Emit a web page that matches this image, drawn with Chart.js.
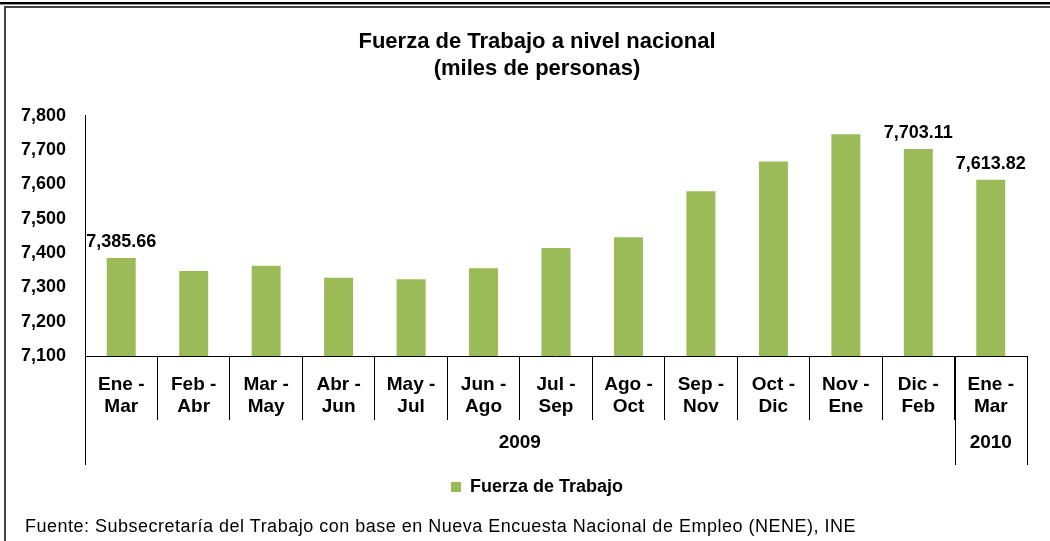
<!DOCTYPE html>
<html>
<head>
<meta charset="utf-8">
<script src="https://cdn.jsdelivr.net/npm/chart.js@4.4.0/dist/chart.umd.min.js"></script>
<style>
  html, body { margin: 0; padding: 0; background: #fff; }
  #wrap { position: relative; width: 1050px; height: 541px; overflow: hidden; }
  #topline { position: absolute; left: 0; top: 2px; width: 1050px; height: 0; border-top: 2px solid #000; border-bottom: 1px solid #999; }
  #frame { position: absolute; left: 4px; top: 6px; width: 1060px; height: 560px; border-left: 2px solid #444; border-top: 2px solid #444; }
  #chart-box { position: absolute; left: 0; top: 0; width: 1050px; height: 541px; }
  #fuente { position: absolute; left: 25px; top: 516px; font: 18px "Liberation Sans", Arial, sans-serif; letter-spacing: 0.5px; color: #000; white-space: nowrap; }
</style>
</head>
<body>
<div id="wrap">
  <div id="topline"></div>
  <div id="frame"></div>
  <div id="chart-box"><canvas id="laborChart"></canvas></div>
  <div id="fuente">Fuente: Subsecretaría del Trabajo con base en Nueva Encuesta Nacional de Empleo (NENE), INE</div>
</div>
<script>
// Periods (two-line labels) and values, thousands of people
const periods = [
    ['Ene -', 'Mar'], ['Feb -', 'Abr'], ['Mar -', 'May'], ['Abr -', 'Jun'],
    ['May -', 'Jul'], ['Jun -', 'Ago'], ['Jul -', 'Sep'], ['Ago -', 'Oct'],
    ['Sep -', 'Nov'], ['Oct -', 'Dic'], ['Nov -', 'Ene'], ['Dic -', 'Feb'],
    ['Ene -', 'Mar']
];
const fuerzaTrabajo = [7385.66, 7348, 7363, 7328, 7324, 7356, 7415, 7446, 7580, 7667, 7746, 7703.11, 7613.82];
const labeledBars = [0, 11, 12];
const years = ['2009', '2010'];
const yearSpans = [12, 1];
const yTicks = [7100, 7200, 7300, 7400, 7500, 7600, 7700, 7800];

const FONT = '"Liberation Sans", Arial, sans-serif';
Chart.defaults.color = '#000';
Chart.defaults.font.family = FONT;

function fmt(v, decimals) {
    return v.toLocaleString('en-US', { minimumFractionDigits: decimals, maximumFractionDigits: decimals });
}

// Value labels above selected bars
const valueLabels = {
    id: 'valueLabels',
    afterDatasetsDraw(chart) {
        const ctx = chart.ctx;
        const meta = chart.getDatasetMeta(0);
        ctx.save();
        ctx.font = 'bold 18px ' + FONT;
        ctx.fillStyle = '#000';
        ctx.textAlign = 'center';
        ctx.textBaseline = 'alphabetic';
        labeledBars.forEach(function (i) {
            const bar = meta.data[i];
            ctx.fillText(fmt(fuerzaTrabajo[i], 2), bar.x, bar.y - 11);
        });
        ctx.restore();
    }
};

// Second row of the x axis: year groups with separators
const yearGroups = {
    id: 'yearGroups',
    afterDraw(chart) {
        const ctx = chart.ctx;
        const x = chart.scales.x;
        const half = (x.getPixelForValue(1) - x.getPixelForValue(0)) / 2;
        let start = 0;
        ctx.save();
        ctx.strokeStyle = '#000';
        ctx.lineWidth = 1;
        ctx.font = 'bold 19px ' + FONT;
        ctx.fillStyle = '#000';
        ctx.textAlign = 'center';
        ctx.textBaseline = 'middle';
        years.forEach(function (yr, k) {
            const end = start + yearSpans[k] - 1;
            const left = x.getPixelForValue(start) - half;
            const right = x.getPixelForValue(end) + half;
            [left, right].forEach(function (px) {
                const p = Math.round(px) + 0.5;
                ctx.beginPath();
                ctx.moveTo(p, x.top);
                ctx.lineTo(p, x.top + 109);
                ctx.stroke();
            });
            ctx.fillText(yr, (left + right) / 2, x.top + 87);
            start = end + 1;
        });
        ctx.restore();
    }
};

const ctx = document.getElementById('laborChart').getContext('2d');
const laborChart = new Chart(ctx, {
    type: 'bar',
    data: {
        labels: periods,
        datasets: [{
            label: 'Fuerza de Trabajo',
            data: fuerzaTrabajo,
            backgroundColor: '#9BBB59',
            borderWidth: 0,
            barPercentage: 0.4,
            categoryPercentage: 1.0
        }]
    },
    options: {
        responsive: true,
        maintainAspectRatio: false,
        animation: false,
        layout: { padding: { top: 10, left: 47, right: 23, bottom: 35 } },
        scales: {
            x: {
                grid: {
                    offset: true,
                    drawOnChartArea: false,
                    drawTicks: true,
                    tickLength: 64,
                    color: '#000',
                    lineWidth: 1
                },
                border: { display: true, color: '#000', width: 1 },
                ticks: {
                    padding: -46,
                    maxRotation: 0,
                    autoSkip: false,
                    font: { size: 19, weight: 'bold', lineHeight: 1.15 }
                },
                afterFit(scale) { scale.height = 110; }
            },
            y: {
                min: 7100,
                max: 7800,
                grid: { display: false, drawTicks: false },
                border: { display: true, color: '#000', width: 1 },
                afterBuildTicks(scale) { scale.ticks = yTicks.map(v => ({ value: v })); },
                ticks: {
                    // mirrored so the labels are not clipped to the narrow axis box
                    mirror: true,
                    padding: -64,
                    font: { size: 18, weight: 'bold' },
                    callback: v => fmt(v, 0)
                },
                afterFit(scale) { scale.width = 38; }
            }
        },
        plugins: {
            title: {
                display: true,
                text: ['Fuerza de Trabajo a nivel nacional', '(miles de personas)'],
                font: { size: 22, weight: 'bold', lineHeight: 1.2 },
                padding: { top: 19, bottom: 34 }
            },
            legend: {
                position: 'bottom',
                labels: {
                    boxWidth: 10,
                    boxHeight: 10,
                    padding: 12,
                    font: { size: 18, weight: 'bold' }
                }
            },
            tooltip: { enabled: false }
        }
    },
    plugins: [valueLabels, yearGroups]
});
</script>
</body>
</html>
